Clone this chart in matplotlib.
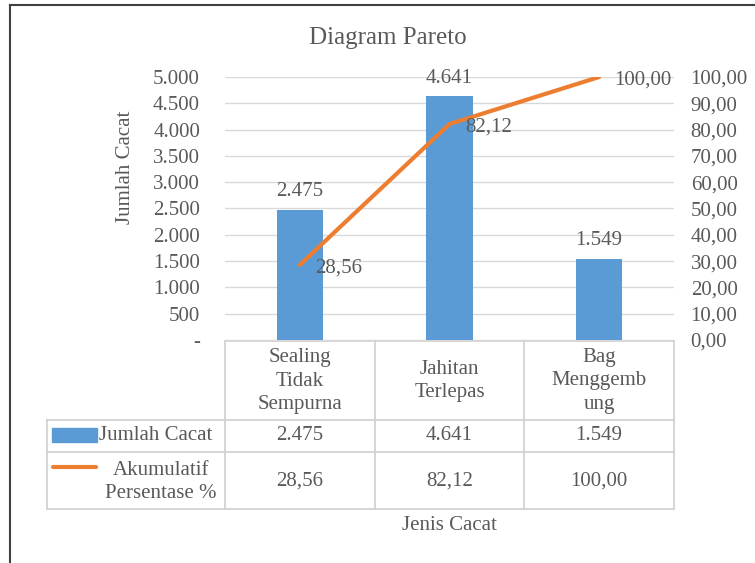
import matplotlib
matplotlib.use("Agg")
import matplotlib.pyplot as plt
import matplotlib.transforms as mtransforms
from matplotlib.lines import Line2D
from matplotlib.patches import Rectangle
from matplotlib.ticker import FuncFormatter

# data
categories = ["Sealing\nTidak\nSempurna", "Jahitan\nTerlepas", "Bag\nMenggemb\nung"]
jumlah_cacat = [2475, 4641, 1549]
akumulatif = [28.56, 82.12, 100.00]
series_names = ["Jumlah Cacat", "Akumulatif\nPersentase %"]

BLUE = "#5B9BD5"
ORANGE = "#ED7D31"
TXT = "#595959"
GRID = "#D9D9D9"
TABLE = "#D0D0D0"

plt.rcParams["font.family"] = ["Liberation Serif", "DejaVu Serif"]

W, H = 755, 563
fig = plt.figure(figsize=(W / 100, H / 100), dpi=100)


def fx(x):
    return x / W


def fy(y):
    return 1 - y / H


def fmt_count(v, pos=None):
    return "-" if v == 0 else f"{v:,.0f}".replace(",", ".")


def fmt_pct(v, pos=None):
    return f"{v:.2f}".replace(".", ",")


ax = fig.add_axes([fx(225), fy(340), fx(674) - fx(225), fy(77) - fy(340)])
xs = list(range(len(categories)))
ax.bar(xs, jumlah_cacat, width=0.31, color=BLUE, zorder=2)
ax.set_xlim(-0.5, len(categories) - 0.5)
ax.set_ylim(0, 5000)
ax.set_yticks(range(0, 5001, 500))
ax.yaxis.set_major_formatter(FuncFormatter(fmt_count))
ax.grid(axis="y", color=GRID, lw=1)
ax.set_axisbelow(True)
ax.set_xticks([])
for s in ax.spines.values():
    s.set_visible(False)
ax.tick_params(axis="y", length=0, pad=18, labelsize=15, labelcolor=TXT)
for xi, v in zip(xs, jumlah_cacat):
    ax.annotate(fmt_count(v), (xi, v), xytext=(0, 6), textcoords="offset points",
                ha="center", va="bottom", fontsize=15, color=TXT)

ax2 = ax.twinx()
ax2.plot(xs, akumulatif, color=ORANGE, lw=3, solid_capstyle="round", zorder=3)
ax2.set_ylim(0, 100)
ax2.set_yticks(range(0, 101, 10))
ax2.yaxis.set_major_formatter(FuncFormatter(fmt_pct))
ax2.tick_params(axis="y", length=0, pad=12, labelsize=15, labelcolor=TXT)
for s in ax2.spines.values():
    s.set_visible(False)
for xi, v in zip(xs, akumulatif):
    ax2.annotate(fmt_pct(v), (xi, v), xytext=(11, -2), textcoords="offset points",
                 ha="left", va="center", fontsize=15, color=TXT)

# titles
fig.text(fx(388), fy(38), "Diagram Pareto", fontsize=18, ha="center", va="center", color=TXT)
fig.text(fx(125), fy(167), "Jumlah Cacat", rotation=90, fontsize=15, ha="center", va="center", color=TXT)
fig.text(fx(449), fy(526), "Jenis Cacat", fontsize=15, ha="center", va="center", color=TXT)

# data table
bt = mtransforms.blended_transform_factory(ax.transData, fig.transFigure)
for b in [-0.5, 0.5, 1.5, 2.5]:
    fig.add_artist(Line2D([b, b], [fy(341), fy(509)], color=TABLE, lw=1.2, transform=bt))
fig.add_artist(Line2D([fx(47), fx(47)], [fy(420), fy(509)], color=TABLE, lw=1.2, transform=fig.transFigure))
fig.add_artist(Line2D([-0.5, 2.5], [fy(341), fy(341)], color=TABLE, lw=1.2, transform=bt))
for yy in [420, 452, 509]:
    fig.add_artist(Line2D([fx(47), fx(674)], [fy(yy), fy(yy)], color=TABLE, lw=1.2,
                          transform=fig.transFigure))

for xi, cat, n, p in zip(xs, categories, jumlah_cacat, akumulatif):
    fig.text(xi, fy(381), cat, transform=bt, ha="center", va="center", fontsize=15,
             color=TXT, linespacing=1.35)
    fig.text(xi, fy(436), fmt_count(n), transform=bt, ha="center", va="center", fontsize=15, color=TXT)
    fig.text(xi, fy(481), fmt_pct(p), transform=bt, ha="center", va="center", fontsize=15, color=TXT)

# legend keys in table
fig.add_artist(Rectangle((fx(52), fy(442)), fx(97) - fx(52), fy(428) - fy(442),
                         color=BLUE, transform=fig.transFigure))
fig.text(fx(99), fy(436), series_names[0], ha="left", va="center", fontsize=15, color=TXT)
fig.add_artist(Line2D([fx(53), fx(96)], [fy(467), fy(467)], color=ORANGE, lw=3,
                      solid_capstyle="round", transform=fig.transFigure))
fig.text(fx(161), fy(482), series_names[1], ha="center", va="center", fontsize=15,
         color=TXT, linespacing=1.35)

# chart frame
fig.add_artist(Line2D([fx(10), fx(10)], [fy(5), fy(563)], color="#404040", lw=1.5, transform=fig.transFigure))
fig.add_artist(Line2D([fx(10), fx(755)], [fy(5), fy(5)], color="#404040", lw=1.5, transform=fig.transFigure))

fig.savefig("out.png", dpi=100)
